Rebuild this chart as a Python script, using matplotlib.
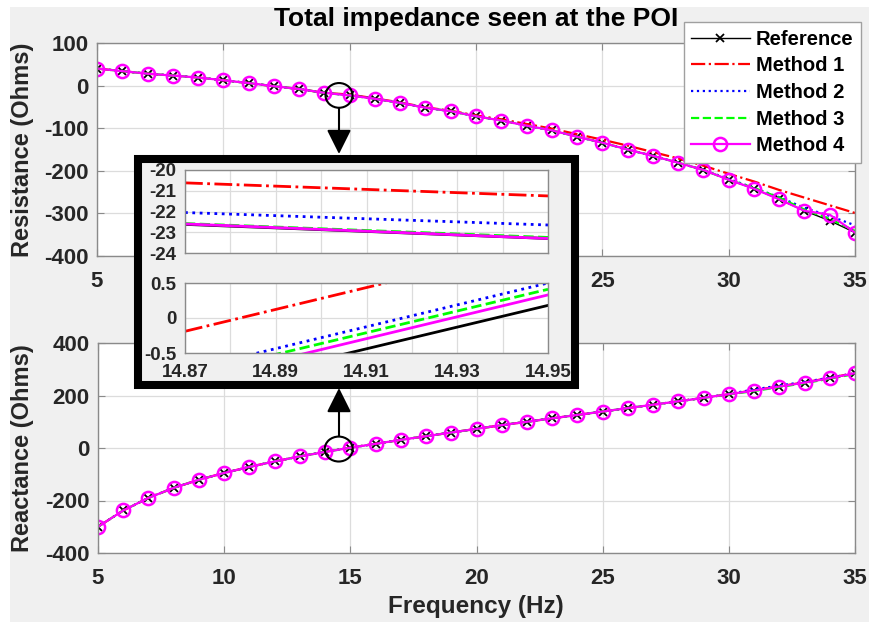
import matplotlib
matplotlib.use("Agg")
import matplotlib.pyplot as plt
from matplotlib.patches import Rectangle, Ellipse, FancyArrowPatch

plt.rcParams["font.family"] = ["Liberation Sans", "DejaVu Sans"]
plt.rcParams["font.weight"] = "bold"
plt.rcParams["axes.unicode_minus"] = False

# donnees
freq = list(range(5, 36))

r_ref = [40, 34, 28, 23.5, 19, 12.5, 6, -1.5, -8, -17, -23, -31, -40.5, -52, -60,
         -72, -82, -94, -105, -120, -134, -150, -165, -181, -198, -221, -242, -267,
         -294, -317, -345]
r_m1 = [40, 34, 28, 23.5, 19, 12.5, 6, -1.5, -8, -17, -21, -30, -39.5, -51, -59,
        -70, -79, -90, -101, -114, -127, -141, -156, -171, -188, -207, -225, -245,
        -263, -281, -299]
r_m2 = [40, 34, 28, 23.5, 19, 12.5, 6, -1.5, -8, -17, -22.5, -31, -40.5, -52, -60,
        -72, -82, -94, -105, -120, -134, -150, -165, -181, -198, -219, -240, -262,
        -287, -306, -328]
r_m3 = [40, 34, 28, 23.5, 19, 12.5, 6, -1.5, -8, -17, -23, -31, -40.5, -52, -60,
        -72, -82, -94, -105, -120, -134, -150, -165, -181, -198, -221, -240, -263,
        -291, -313, -341]
r_m4 = [40, 34, 28, 23.5, 19, 12.5, 6, -1.5, -8, -17, -23, -31, -40.5, -52, -60,
        -72, -82, -94, -105, -120, -134, -150, -165, -181, -198, -221, -242, -267,
        -294, -303, -345]

x_ref = [-300, -238, -190, -152, -121, -95, -72, -51, -32, -15, 1, 16, 31, 45, 59,
         73, 87, 100, 113, 126, 139, 152, 165, 178, 191, 205, 219, 234, 249, 266, 285]
x_m1 = [-300, -238, -190, -152, -121, -95, -72, -51, -32, -15, 1.5, 16, 31, 45, 59,
        73, 87, 100, 113, 126, 139, 152, 165, 178, 191, 205, 220, 235, 250, 267, 286]
x_m2 = [-300, -238, -190, -152, -121, -95, -72, -51, -32, -15, 1, 16, 31, 45, 59,
        73, 87, 100, 113, 126, 139, 152, 165, 178, 191, 206, 223, 238, 252, 268, 285]
x_m3 = [-300, -238, -190, -152, -121, -95, -72, -51, -32, -15, 1, 16, 31, 45, 59,
        73, 87, 100, 113, 126, 139, 152, 165, 178, 191, 204, 217, 232, 247, 264, 282]
x_m4 = [-300, -238, -190, -152, -121, -95, -72, -51, -32, -15, 1, 16, 31, 45, 59,
        73, 87, 100, 113, 126, 139, 152, 165, 178, 191, 205, 219, 234, 249, 266, 285]

# zoom autour de 14.9 Hz
zoom_f = [14.87, 14.95]
zr_ref = [-22.62, -23.30]
zr_m1 = [-20.62, -21.25]
zr_m2 = [-22.05, -22.65]
zr_m3 = [-22.58, -23.25]
zr_m4 = [-22.60, -23.30]
zx_ref = [-1.06, 0.18]
zx_m1 = [-0.19, 1.06]
zx_m2 = [-0.75, 0.50]
zx_m3 = [-0.83, 0.41]
zx_m4 = [-0.92, 0.33]

noms = ["Reference", "Method 1", "Method 2", "Method 3", "Method 4"]

W, H = 870, 622
GRIS = "#f0f0f0"
TXT = "#262626"


def fr(x0, y0, x1, y1):
    # rectangle en pixels (haut-gauche) -> fraction de figure
    return [x0 / W, 1 - y1 / H, (x1 - x0) / W, (y1 - y0) / H]


def style_axes(ax, fs, xpad, ypad):
    ax.set_facecolor("white")
    for s in ax.spines.values():
        s.set_color("#8a8a8a")
        s.set_linewidth(1.0)
    ax.tick_params(direction="in", top=True, right=True, length=5,
                   color="#8a8a8a", labelcolor=TXT, labelsize=fs)
    ax.tick_params(axis="x", pad=xpad)
    ax.tick_params(axis="y", pad=ypad)
    ax.grid(True, color="#dcdcdc", linewidth=0.9)
    ax.set_axisbelow(True)


def trace(ax, f, ref, m1, m2, m3, m4, marq=True, lw=1.6):
    lignes = []
    if marq:
        lignes += ax.plot(f, ref, "-", color="black", lw=1.0, marker="x", ms=5.5, mew=1.3)
    else:
        lignes += ax.plot(f, ref, "-", color="black", lw=lw)
    lignes += ax.plot(f, m1, "-.", color="#ff0000", lw=lw)
    lignes += ax.plot(f, m2, ":", color="#0000ff", lw=lw)
    lignes += ax.plot(f, m3, "--", color="#00ff00", lw=lw)
    if marq:
        lignes += ax.plot(f, m4, "-", color="#ff00ff", lw=lw, marker="o", ms=9.5,
                          mfc="none", mew=1.8)
    else:
        lignes += ax.plot(f, m4, "-", color="#ff00ff", lw=lw)
    return lignes


fig = plt.figure(figsize=(W / 100, H / 100), dpi=100, facecolor="white")
fig.add_artist(Rectangle((10 / W, 0), 1 - 10 / W, 1 - 7 / H, transform=fig.transFigure,
                         facecolor=GRIS, edgecolor="none", zorder=-5))

# resistance
ax1 = fig.add_axes(fr(97, 43, 855, 256))
lignes = trace(ax1, freq, r_ref, r_m1, r_m2, r_m3, r_m4)
ax1.set_xlim(5, 35)
ax1.set_ylim(-400, 100)
ax1.set_xticks(range(5, 36, 5))
ax1.set_yticks(range(-400, 101, 100))
style_axes(ax1, 16, 11, 6)

# reactance
ax2 = fig.add_axes(fr(98, 343, 855, 553))
trace(ax2, freq, x_ref, x_m1, x_m2, x_m3, x_m4)
ax2.set_xlim(5, 35)
ax2.set_ylim(-400, 400)
ax2.set_xticks(range(5, 36, 5))
ax2.set_yticks(range(-400, 401, 200))
style_axes(ax2, 16, 11, 6)

fig.text(476 / W, 1 - 19 / H, "Total impedance seen at the POI", ha="center", va="center",
         fontsize=19, fontweight="bold", color="black")
fig.text(476 / W, 1 - 606 / H, "Frequency (Hz)", ha="center", va="center",
         fontsize=17.5, fontweight="bold", color=TXT)
fig.text(23 / W, 1 - 150 / H, "Resistance (Ohms)", ha="center", va="center",
         rotation=90, fontsize=17, fontweight="bold", color=TXT)
fig.text(23 / W, 1 - 448 / H, "Reactance (Ohms)", ha="center", va="center",
         rotation=90, fontsize=17, fontweight="bold", color=TXT)

# cercles sur les courbes
ax1.add_patch(Ellipse((14.58, -23), 1.07, 58, facecolor="none", edgecolor="black",
                      lw=1.5, clip_on=False, zorder=6))
ax2.add_patch(Ellipse((14.54, -4), 1.11, 95, facecolor="none", edgecolor="black",
                      lw=1.5, clip_on=False, zorder=6))

# cadre du zoom
fig.add_artist(Rectangle((138 / W, 1 - 385 / H), 437 / W, 226 / H, transform=fig.transFigure,
                         facecolor=GRIS, edgecolor="black", lw=5.8, zorder=1))

axz1 = fig.add_axes(fr(185, 170, 548, 253), zorder=2)
trace(axz1, zoom_f, zr_ref, zr_m1, zr_m2, zr_m3, zr_m4, marq=False, lw=2.0)
axz1.set_xlim(14.87, 14.95)
axz1.set_ylim(-24, -20)
axz1.set_yticks([-24, -23, -22, -21, -20])
axz1.set_xticks([14.87 + 0.01 * i for i in range(9)])
axz1.set_xticklabels([])
style_axes(axz1, 13.5, 8, 6)
axz1.tick_params(length=0)

axz2 = fig.add_axes(fr(185, 283, 548, 353), zorder=2)
trace(axz2, zoom_f, zx_ref, zx_m1, zx_m2, zx_m3, zx_m4, marq=False, lw=2.0)
axz2.set_xlim(14.87, 14.95)
axz2.set_ylim(-0.5, 0.5)
axz2.set_yticks([-0.5, 0, 0.5])
axz2.set_yticklabels(["-0.5", "0", "0.5"])
axz2.set_xticks([14.87 + 0.01 * i for i in range(9)])
axz2.set_xticklabels(["%.2f" % (14.87 + 0.01 * i) if i % 2 == 0 else "" for i in range(9)])
style_axes(axz2, 13.5, 8, 6)
axz2.tick_params(length=0)

# fleches
for (ya, yb) in [(108, 154), (436, 388)]:
    fig.add_artist(FancyArrowPatch((339 / W, 1 - ya / H), (339 / W, 1 - yb / H),
                                   transform=fig.transFigure, color="black", lw=1.5,
                                   arrowstyle="-|>,head_length=1.5,head_width=0.75",
                                   mutation_scale=10, shrinkA=0, shrinkB=0, zorder=4))

leg = fig.legend(lignes, noms, loc="upper right", bbox_to_anchor=(861 / W, 1 - 22 / H),
                 fontsize=14.5, handlelength=2.9, labelspacing=0.38, borderpad=0.38,
                 handletextpad=0.3, borderaxespad=0, fancybox=False, framealpha=1,
                 edgecolor="#a0a0a0")
leg.set_zorder(5)
for t in leg.get_texts():
    t.set_fontweight("bold")

fig.savefig("out.png", dpi=100, facecolor="white")
